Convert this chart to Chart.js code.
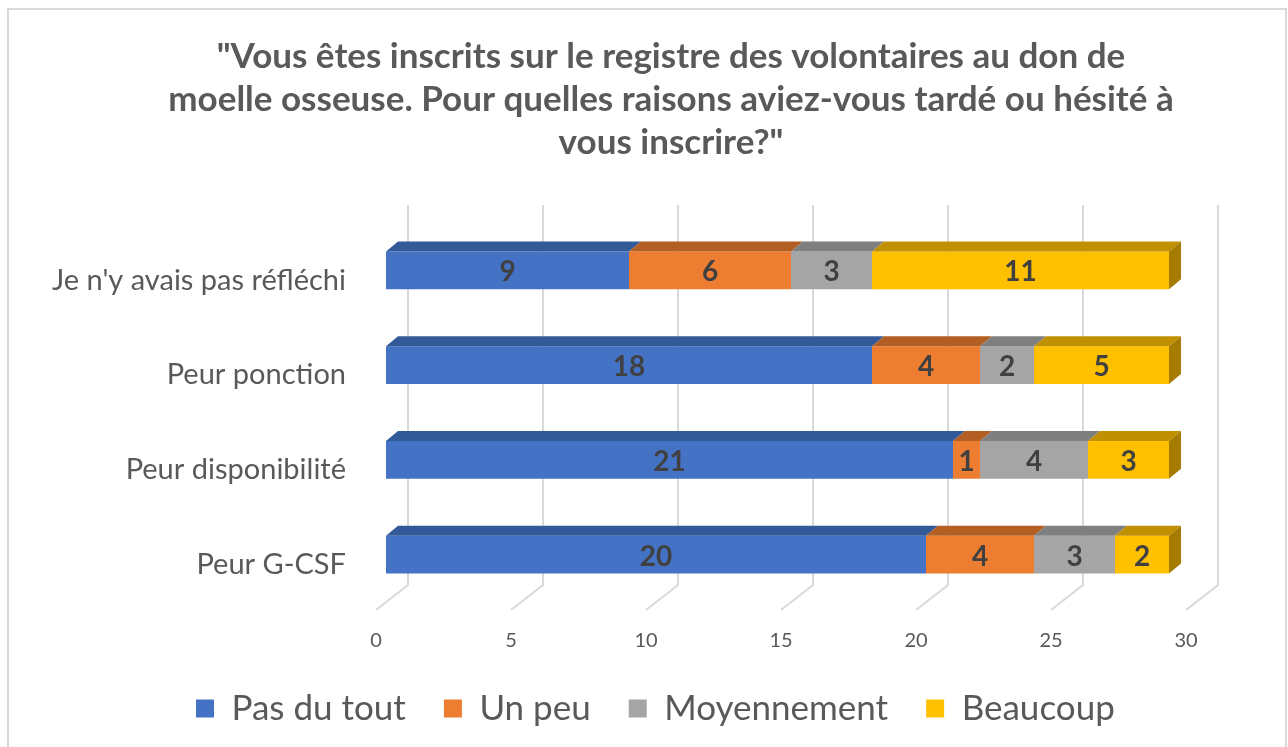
<!DOCTYPE html>
<html><head><meta charset="utf-8">
<script src="https://cdn.jsdelivr.net/npm/chart.js@4.4.1/dist/chart.umd.min.js"></script>
<style>html,body{margin:0;padding:0;background:#fff;overflow:hidden}</style>
</head><body>
<canvas id="c" width="1288" height="747"></canvas>
<script>
const categories = ["Je n'y avais pas réfléchi", "Peur ponction", "Peur disponibilité", "Peur G-CSF"];
const seriesNames = ["Pas du tout", "Un peu", "Moyennement", "Beaucoup"];
const pasDuTout = [9, 18, 21, 20];
const unPeu = [6, 4, 1, 4];
const moyennement = [3, 2, 4, 3];
const beaucoup = [11, 5, 3, 2];
const xTicks = [0, 5, 10, 15, 20, 25, 30];
const titleLines = ['"Vous êtes inscrits sur le registre des volontaires au don de',
  'moelle osseuse. Pour quelles raisons aviez-vous tardé ou hésité à',
  'vous inscrire?"'];

const frontColors = ['#4472C4', '#ED7D31', '#A5A5A5', '#FFC000'];
const topColors = ['#335A98', '#B35E23', '#7F7F7F', '#C09000'];
const sideColor = '#A67C00';
const FONT = 'Lato, "Open Sans", sans-serif';

const threeD = {
  id: 'threeD',
  afterLayout(chart) {
    // Excel centres the title and legend slightly right of the canvas centre
    if (chart.titleBlock) chart.titleBlock.left = 146;
    if (chart.legend) chart.legend.left = 158;
  },
  beforeDraw(chart) {
    const ctx = chart.ctx;
    ctx.save();
    ctx.fillStyle = '#fff';
    ctx.fillRect(0, 0, chart.width, chart.height);
    ctx.strokeStyle = '#D9D9D9';
    ctx.lineWidth = 2;
    ctx.strokeRect(8, 9, chart.width - 10, chart.height - 6);
    ctx.restore();
  },
  beforeDatasetsDraw(chart) {
    const ctx = chart.ctx, xs = chart.scales.x, ca = chart.chartArea;
    const top = ca.top - 18, back = ca.bottom - 17, front = ca.bottom + 8;
    ctx.save();
    ctx.strokeStyle = '#D9D9D9';
    ctx.lineWidth = 2;
    xTicks.forEach(v => {
      const px = xs.getPixelForValue(v);
      ctx.beginPath();
      ctx.moveTo(px + 22, top);
      ctx.lineTo(px + 22, back);
      ctx.lineTo(px - 10, front);
      ctx.stroke();
    });
    ctx.restore();
  },
  afterDatasetsDraw(chart) {
    const ctx = chart.ctx;
    const n = chart.data.datasets.length;
    ctx.save();
    chart.data.datasets.forEach((ds, i) => {
      const meta = chart.getDatasetMeta(i);
      meta.data.forEach((bar) => {
        const p = bar.getProps(['x', 'y', 'base', 'height'], true);
        const y0 = p.y - p.height / 2;
        ctx.fillStyle = topColors[i];
        ctx.beginPath();
        ctx.moveTo(p.base, y0);
        ctx.lineTo(p.x, y0);
        ctx.lineTo(p.x + 12, y0 - 10);
        ctx.lineTo(p.base + 12, y0 - 10);
        ctx.closePath();
        ctx.fill();
        if (i === n - 1) {
          ctx.fillStyle = sideColor;
          ctx.beginPath();
          ctx.moveTo(p.x, y0);
          ctx.lineTo(p.x + 12, y0 - 10);
          ctx.lineTo(p.x + 12, y0 + p.height - 10);
          ctx.lineTo(p.x, y0 + p.height);
          ctx.closePath();
          ctx.fill();
        }
      });
    });
    ctx.fillStyle = '#404040';
    ctx.font = 'bold 28px ' + FONT;
    ctx.textAlign = 'center';
    ctx.textBaseline = 'middle';
    chart.data.datasets.forEach((ds, i) => {
      const meta = chart.getDatasetMeta(i);
      meta.data.forEach((bar, j) => {
        const p = bar.getProps(['x', 'y', 'base'], true);
        ctx.fillText(String(ds.data[j]), (p.x + p.base) / 2, p.y + 2);
      });
    });
    ctx.restore();
  }
};

const seriesData = [pasDuTout, unPeu, moyennement, beaucoup];
new Chart(document.getElementById('c'), {
  type: 'bar',
  data: {
    labels: categories,
    datasets: seriesNames.map((name, i) => ({
      label: name,
      data: seriesData[i],
      backgroundColor: frontColors[i],
      borderWidth: 0,
      barPercentage: 0.4,
      categoryPercentage: 1
    }))
  },
  options: {
    indexAxis: 'y',
    responsive: false,
    animation: false,
    devicePixelRatio: 1,
    layout: { padding: { top: 12, right: 92, left: 0, bottom: 11 } },
    scales: {
      x: {
        stacked: true,
        min: 0, max: 30,
        grid: { display: false, drawTicks: false },
        border: { display: false },
        afterBuildTicks: (s) => { s.ticks = xTicks.map(v => ({ value: v })); },
        afterFit: (s) => { s.height = 51; },
        ticks: { color: '#595959', font: { family: FONT, size: 20 }, padding: 27, labelOffset: -10, maxRotation: 0 }
      },
      y: {
        stacked: true,
        grid: { display: false, drawTicks: false },
        border: { display: false },
        afterFit: (s) => { s.width = 386; },
        ticks: { color: '#595959', font: { family: FONT, size: 29 }, padding: 40, labelOffset: 10 }
      }
    },
    plugins: {
      title: {
        display: true,
        text: titleLines,
        color: '#595959',
        font: { family: FONT, size: 35, weight: 'bold', lineHeight: 43 / 35 },
        padding: { top: 23.5, bottom: 58.5 }
      },
      legend: {
        position: 'bottom',
        align: 'start',
        labels: { color: '#595959', boxWidth: 18, boxHeight: 18, padding: 38, font: { family: FONT, size: 35 } }
      },
      tooltip: { enabled: false }
    }
  },
  plugins: [threeD]
});
</script>
</body></html>
